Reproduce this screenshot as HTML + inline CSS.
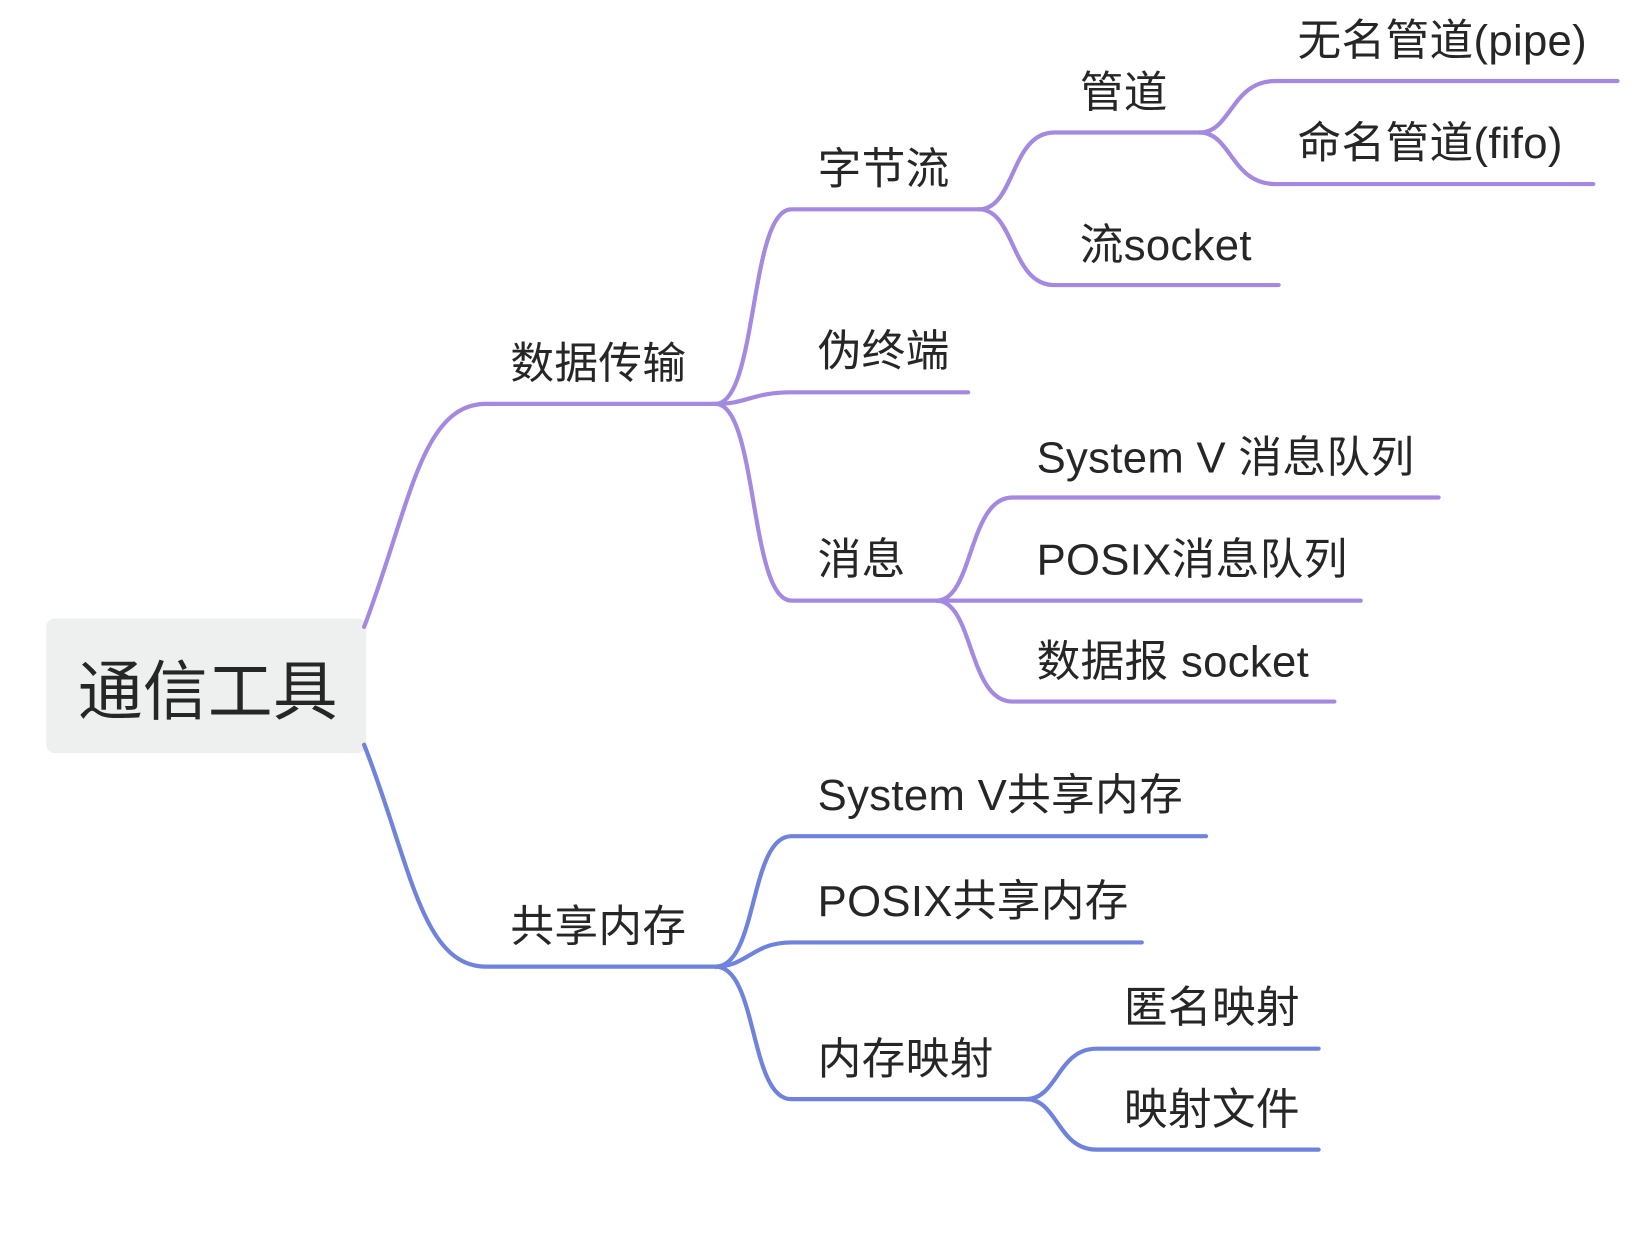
<!DOCTYPE html>
<html><head><meta charset="utf-8"><style>
html,body{margin:0;padding:0;background:#fff;}
svg{display:block;}
text{font-family:"Liberation Sans","Noto Sans CJK SC",sans-serif;fill:#262626;font-size:41.5px;letter-spacing:0.3px;}
</style></head><body>
<svg width="1648" height="1238" viewBox="0 0 1566 1177" preserveAspectRatio="none" xmlns="http://www.w3.org/2000/svg">
<rect x="44" y="588" width="304" height="128" rx="8" fill="#eef0ef"/>
<text x="74" y="679" style="font-size:61.5px">通信工具</text>
<g fill="none" stroke-width="4" stroke-linecap="round">
<g stroke="#a38ae0">
<path d="M346 596 C390 480 400 384 462 384 L680 384"/>
<path d="M680 384 C720 384 712 199 752 199 L930 199"/>
<path d="M680 384 C710 384 715 373 752 373 L920 373"/>
<path d="M680 384 C720 384 712 571 752 571 L890 571"/>
<path d="M930 199 C965 199 960 126 1002 126 L1140 126"/>
<path d="M930 199 C965 199 960 271 1002 271 L1215 271"/>
<path d="M1140 126 C1170 126 1170 77 1212 77 L1537 77"/>
<path d="M1140 126 C1170 126 1170 175 1212 175 L1514 175"/>
<path d="M890 571 C925 571 920 473 962 473 L1367 473"/>
<path d="M890 571 L1293 571"/>
<path d="M890 571 C925 571 920 667 962 667 L1268 667"/>
</g>
<g stroke="#6f83dc">
<path d="M346 708 C390 820 400 919 462 919 L680 919"/>
<path d="M680 919 C720 919 712 795 752 795 L1146 795"/>
<path d="M680 919 C710 919 715 896 752 896 L1085 896"/>
<path d="M680 919 C720 919 712 1045 752 1045 L975 1045"/>
<path d="M975 1045 C1005 1045 1005 997 1042 997 L1253 997"/>
<path d="M975 1045 C1005 1045 1005 1093 1042 1093 L1253 1093"/>
</g>
</g>
<text x="485" y="360">数据传输</text>
<text x="777" y="175">字节流</text>
<text x="777" y="348">伪终端</text>
<text x="777" y="546">消息</text>
<text x="1026" y="102">管道</text>
<text x="1026" y="247">流socket</text>
<text x="1233" y="53">无名管道(pipe)</text>
<text x="1233" y="150">命名管道(fifo)</text>
<text x="985" y="449">System V 消息队列</text>
<text x="985" y="546">POSIX消息队列</text>
<text x="985" y="643">数据报 socket</text>
<text x="485" y="895">共享内存</text>
<text x="777" y="770">System V共享内存</text>
<text x="777" y="871">POSIX共享内存</text>
<text x="777" y="1021">内存映射</text>
<text x="1068" y="972">匿名映射</text>
<text x="1068" y="1069">映射文件</text>
</svg>
</body></html>
